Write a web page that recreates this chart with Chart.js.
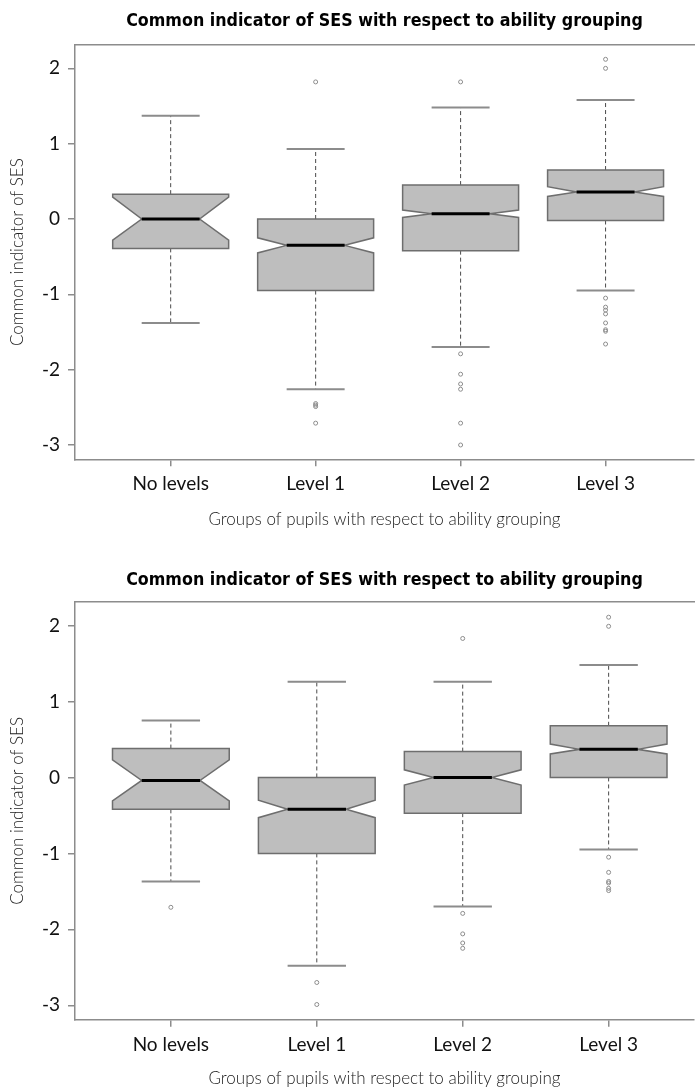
<!DOCTYPE html>
<html>
<head>
<meta charset="utf-8">
<script src="https://cdn.jsdelivr.net/npm/chart.js@4.4.1/dist/chart.umd.min.js"></script>
<style>
  body { margin: 0; background: #fff; }
  canvas { display: block; }
</style>
</head>
<body>
<canvas id="chartTop" width="699" height="546"></canvas>
<canvas id="chartBottom" width="699" height="546"></canvas>
<script>
'use strict';

let groups = ['No levels', 'Level 1', 'Level 2', 'Level 3'];
let yTickValues = [-3, -2, -1, 0, 1, 2];
let chartTitle = 'Common indicator of SES with respect to ability grouping';
let xTitle = 'Groups of pupils with respect to ability grouping';
let yTitle = 'Common indicator of SES';

// first chart
let low1 = [-1.38, -2.26, -1.70, -0.95];
let q1First = [-0.39, -0.95, -0.42, -0.02];
let median1 = [0.00, -0.35, 0.07, 0.36];
let q3First = [0.33, 0.00, 0.45, 0.65];
let high1 = [1.37, 0.93, 1.48, 1.58];
let notchLow1 = [-0.28, -0.45, 0.02, 0.30];
let notchHigh1 = [0.29, -0.25, 0.12, 0.43];
let outliers1 = [
    [],
    [1.82, -2.45, -2.47, -2.49, -2.71],
    [1.82, -1.79, -2.06, -2.19, -2.26, -2.71, -3.00],
    [2.12, 2.00, -1.05, -1.17, -1.21, -1.26, -1.38, -1.47, -1.49, -1.66]
];

// second chart
let low2 = [-1.37, -2.48, -1.70, -0.95];
let q1Second = [-0.42, -1.00, -0.47, 0.00];
let median2 = [-0.04, -0.42, 0.00, 0.37];
let q3Second = [0.38, 0.00, 0.34, 0.68];
let high2 = [0.75, 1.26, 1.26, 1.48];
let notchLow2 = [-0.31, -0.53, -0.10, 0.31];
let notchHigh2 = [0.23, -0.30, 0.10, 0.44];
let outliers2 = [
    [-1.71],
    [-2.70, -2.99],
    [1.83, -1.79, -2.06, -2.18, -2.25],
    [2.11, 1.99, -1.05, -1.25, -1.37, -1.39, -1.46, -1.49]
];

let axisGray = '#8c8c8c';

// draws notched boxes from the arrays through the chart scales
let boxPlugin = {
    id: 'notchedBoxes',
    beforeDatasetsDraw(chart) {
        let b = chart.options.plugins.notchedBoxes;
        let xs = chart.scales.x;
        let ys = chart.scales.y;
        let ctx = chart.ctx;
        let hw = 0.4, nw = 0.2, cw = 0.2;
        ctx.save();
        for (let i = 0; i < b.median.length; i++) {
            let cx = xs.getPixelForValue(i);
            // whiskers
            ctx.setLineDash([4, 3]);
            ctx.strokeStyle = '#4a4a4a';
            ctx.lineWidth = 1;
            ctx.beginPath();
            ctx.moveTo(cx, ys.getPixelForValue(b.q3[i]));
            ctx.lineTo(cx, ys.getPixelForValue(b.high[i]));
            ctx.moveTo(cx, ys.getPixelForValue(b.q1[i]));
            ctx.lineTo(cx, ys.getPixelForValue(b.low[i]));
            ctx.stroke();
            ctx.setLineDash([]);
            // caps
            ctx.strokeStyle = axisGray;
            ctx.lineWidth = 2;
            ctx.beginPath();
            ctx.moveTo(xs.getPixelForValue(i - cw), ys.getPixelForValue(b.high[i]));
            ctx.lineTo(xs.getPixelForValue(i + cw), ys.getPixelForValue(b.high[i]));
            ctx.moveTo(xs.getPixelForValue(i - cw), ys.getPixelForValue(b.low[i]));
            ctx.lineTo(xs.getPixelForValue(i + cw), ys.getPixelForValue(b.low[i]));
            ctx.stroke();
            // box
            let L = xs.getPixelForValue(i - hw), R = xs.getPixelForValue(i + hw);
            let nL = xs.getPixelForValue(i - nw), nR = xs.getPixelForValue(i + nw);
            let top = ys.getPixelForValue(b.q3[i]), bot = ys.getPixelForValue(b.q1[i]);
            let nHi = ys.getPixelForValue(b.notchHigh[i]), nLo = ys.getPixelForValue(b.notchLow[i]);
            let med = ys.getPixelForValue(b.median[i]);
            ctx.beginPath();
            ctx.moveTo(L, top);
            ctx.lineTo(R, top);
            ctx.lineTo(R, nHi);
            ctx.lineTo(nR, med);
            ctx.lineTo(R, nLo);
            ctx.lineTo(R, bot);
            ctx.lineTo(L, bot);
            ctx.lineTo(L, nLo);
            ctx.lineTo(nL, med);
            ctx.lineTo(L, nHi);
            ctx.closePath();
            ctx.fillStyle = '#bebebe';
            ctx.fill();
            ctx.strokeStyle = '#6e6e6e';
            ctx.lineWidth = 1.5;
            ctx.stroke();
            // median
            ctx.strokeStyle = '#000';
            ctx.lineWidth = 3;
            ctx.beginPath();
            ctx.moveTo(nL, med);
            ctx.lineTo(nR, med);
            ctx.stroke();
        }
        ctx.restore();
    }
};

function makeChart(canvasId, box, outliers, geo) {
    let points = [];
    for (let i = 0; i < outliers.length; i++) {
        for (let j = 0; j < outliers[i].length; j++) {
            points.push({x: i, y: outliers[i][j]});
        }
    }
    let ctx = document.getElementById(canvasId).getContext('2d');
    return new Chart(ctx, {
        type: 'scatter',
        data: {
            datasets: [{
                data: points,
                pointRadius: 2,
                pointBorderWidth: 1,
                borderColor: axisGray,
                backgroundColor: 'rgba(0,0,0,0)'
            }]
        },
        plugins: [boxPlugin],
        options: {
            responsive: false,
            animation: false,
            layout: { padding: 0 },
            plugins: {
                legend: { display: false },
                tooltip: { enabled: false },
                notchedBoxes: box
            },
            scales: {
                x: {
                    type: 'linear',
                    position: 'bottom',
                    min: geo.xMin,
                    max: geo.xMax,
                    afterBuildTicks: (s) => { s.ticks = groups.map((g, i) => ({value: i})); },
                    afterFit: (s) => { s.height = geo.h - geo.plotBottom; s.paddingLeft = 0; s.paddingRight = 0; },
                    ticks: {
                        padding: 6.6,
                        color: '#111',
                        font: { family: 'Lato', size: 19 },
                        maxRotation: 0,
                        autoSkip: false,
                        callback: (v) => groups[v]
                    },
                    grid: { drawOnChartArea: false, drawTicks: true, tickLength: 7, color: axisGray, lineWidth: 1.5 },
                    border: { display: true, color: axisGray, width: 1.5 },
                    title: {
                        display: true,
                        text: xTitle,
                        color: '#222',
                        font: { family: 'Lato', size: 17, weight: 300 },
                        padding: { top: 0, bottom: geo.xTitleBottom }
                    }
                },
                x2: {
                    type: 'linear',
                    axis: 'x',
                    position: 'top',
                    min: 0,
                    max: 1,
                    afterFit: (s) => { s.height = geo.plotTop; s.paddingLeft = 0; s.paddingRight = 0; },
                    ticks: { display: false },
                    grid: { drawOnChartArea: false, drawTicks: false },
                    border: { display: true, color: axisGray, width: 1.5 },
                    title: {
                        display: true,
                        text: chartTitle,
                        color: '#000',
                        font: { family: '"Liberation Sans Narrow", "DejaVu Sans Condensed", sans-serif', size: 17.7, weight: 'bold' },
                        padding: { top: geo.titleTop, bottom: 0 }
                    }
                },
                y: {
                    type: 'linear',
                    min: -3.19,
                    max: 2.31,
                    afterBuildTicks: (s) => { s.ticks = yTickValues.map((v) => ({value: v})); },
                    afterFit: (s) => { s.width = 75; s.paddingTop = 0; s.paddingBottom = 0; },
                    ticks: {
                        padding: 8,
                        color: '#111',
                        font: { family: 'Lato', size: 19 },
                        callback: (v) => String(v)
                    },
                    grid: { drawOnChartArea: false, drawTicks: true, tickLength: 7, color: axisGray, lineWidth: 1.5 },
                    border: { display: true, color: axisGray, width: 1.5 },
                    title: {
                        display: true,
                        text: yTitle,
                        color: '#222',
                        font: { family: 'Lato', size: 17, weight: 300 },
                        padding: { top: 7.8, bottom: 0 }
                    }
                }
            }
        }
    });
}

makeChart('chartTop',
    { low: low1, q1: q1First, median: median1, q3: q3First, high: high1, notchLow: notchLow1, notchHigh: notchHigh1 },
    outliers1,
    { h: 546, plotTop: 45, plotBottom: 459.3, titleTop: 11, xTitleBottom: 15.8, xMin: -0.66, xMax: 3.61 });

makeChart('chartBottom',
    { low: low2, q1: q1Second, median: median2, q3: q3Second, high: high2, notchLow: notchLow2, notchHigh: notchHigh2 },
    outliers2,
    { h: 546, plotTop: 56, plotBottom: 473.7, titleTop: 23.3, xTitleBottom: 2.8, xMin: -0.657, xMax: 3.585 });
</script>
</body>
</html>
